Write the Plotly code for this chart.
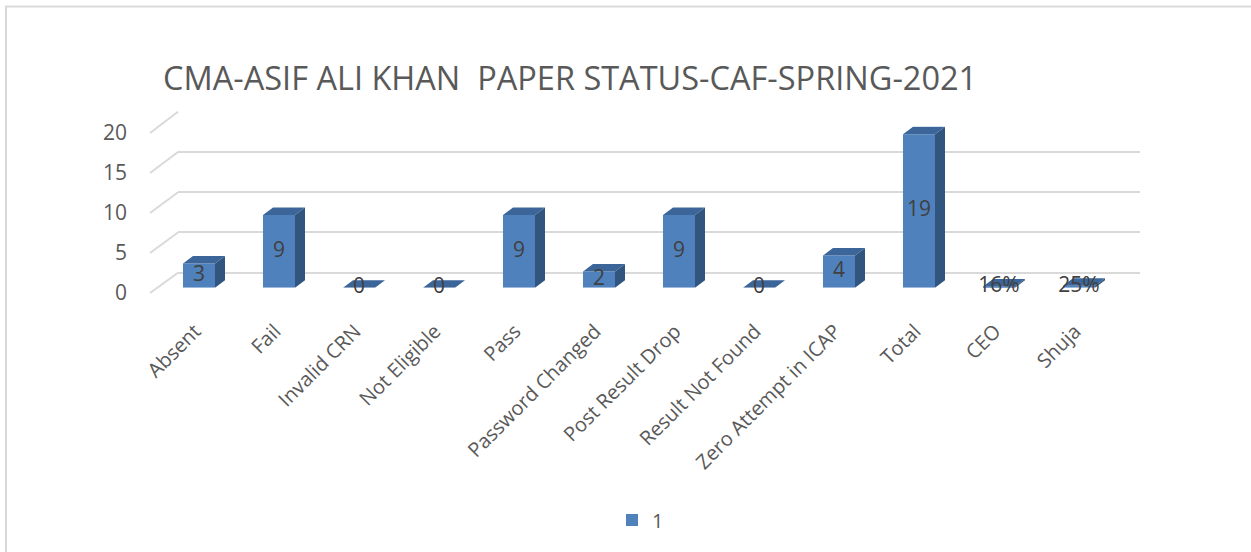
import plotly.graph_objects as go

# Paper status counts per category
categories = ["Absent", "Fail", "Invalid CRN", "Not Eligible", "Pass",
              "Password Changed", "Post Result Drop", "Result Not Found",
              "Zero Attempt in ICAP", "Total", "CEO", "Shuja"]
values = [3, 9, 0, 0, 9, 2, 9, 0, 4, 19, 0.16, 0.25]
label_kind = ["count"] * 10 + ["percent"] * 2
y_ticks = [0, 5, 10, 15, 20]
series_name = "1"
title_text = "CMA-ASIF ALI KHAN  PAPER STATUS-CAF-SPRING-2021"

W, H = 1251, 552
FONT = "Open Sans"
TXT = "#595959"
FRONT = "#4f81bd"
TOP = "#3c6699"
SIDE = "#32557f"
GRID = "#d9d9d9"


def fx(px):
    return px / W


def fy(py):
    return 1 - py / H


# pseudo-3D depth of each column, in axis units
DX = 10 / 80
DY = 0.93
HALF = 0.2

labels = [f"{v:.0%}" if k == "percent" else f"{v:g}" for v, k in zip(values, label_kind)]
xs = list(range(len(categories)))

# top and side faces as filled polygons
top_x, top_y, side_x, side_y = [], [], [], []
for i, v in zip(xs, values):
    top_x += [i - HALF, i + HALF, i + HALF + DX, i - HALF + DX, i - HALF, None]
    top_y += [v, v, v + DY, v + DY, v, None]
    side_x += [i + HALF, i + HALF + DX, i + HALF + DX, i + HALF, i + HALF, None]
    side_y += [0, DY, v + DY, v, 0, None]

fig = go.Figure()

# back wall gridlines (subplot xy, drawn first)
fig.add_trace(go.Scatter(x=[0], y=[0], mode="markers", marker=dict(opacity=0),
                         hoverinfo="skip", showlegend=False, xaxis="x", yaxis="y"))

# columns (subplot x2y2)
fig.add_trace(go.Bar(x=xs, y=values, width=2 * HALF, name=series_name,
                     marker=dict(color=FRONT, line=dict(width=0)),
                     xaxis="x2", yaxis="y2", showlegend=True))
fig.add_trace(go.Scatter(x=side_x, y=side_y, mode="lines", fill="toself",
                         fillcolor=SIDE, line=dict(width=0, color=SIDE),
                         hoverinfo="skip", showlegend=False, xaxis="x2", yaxis="y2"))
fig.add_trace(go.Scatter(x=top_x, y=top_y, mode="lines", fill="toself",
                         fillcolor=TOP, line=dict(width=0, color=TOP),
                         hoverinfo="skip", showlegend=False, xaxis="x2", yaxis="y2"))
fig.add_trace(go.Scatter(x=xs, y=[v / 2 for v in values], mode="text", text=labels,
                         textfont=dict(family=FONT, size=21, color="#404040"),
                         hoverinfo="skip", showlegend=False, xaxis="x2", yaxis="y2",
                         cliponaxis=False))

# value axis labels (subplot x3y3, front edge)
fig.add_trace(go.Scatter(x=[0], y=[0], mode="markers", marker=dict(opacity=0),
                         hoverinfo="skip", showlegend=False, xaxis="x3", yaxis="y3"))

# geometry in pixels
WALL_L, WALL_R = 178, 1140
WALL_0, WALL_20 = 272.7, 111.7
FRONT_L = 150
FRONT_0, FRONT_20 = 293, 133
BAR_0, BAR_20 = 287.7, 126.3
CAT_L, CAT_R = 159, 1119

ymax = y_ticks[-1]

# diagonal edges joining front value ticks to the back wall gridlines
shapes = []
for t in y_ticks:
    yf = FRONT_0 + (FRONT_20 - FRONT_0) * t / ymax
    yb = WALL_0 + (WALL_20 - WALL_0) * t / ymax
    shapes.append(dict(type="line", xref="paper", yref="paper",
                       x0=fx(FRONT_L), y0=fy(yf), x1=fx(WALL_L), y1=fy(yb),
                       line=dict(color=GRID, width=2), layer="below"))

# outer frame
shapes.append(dict(type="line", xref="paper", yref="paper", x0=fx(5), y0=fy(6.5),
                   x1=1, y1=fy(6.5), line=dict(color=GRID, width=2)))
shapes.append(dict(type="line", xref="paper", yref="paper", x0=fx(6), y0=fy(6),
                   x1=fx(6), y1=0, line=dict(color=GRID, width=2)))

hidden = dict(showgrid=False, zeroline=False, showticklabels=False, showline=False,
              ticks="", fixedrange=True, automargin=False)

fig.update_layout(
    width=W, height=H,
    margin=dict(l=0, r=0, t=0, b=0, pad=0, autoexpand=False),
    paper_bgcolor="white", plot_bgcolor="rgba(0,0,0,0)",
    font=dict(family=FONT, color=TXT),
    title=dict(text=title_text, x=fx(163), xanchor="left", xref="paper",
               y=fy(79), yanchor="middle", yref="paper", automargin=False,
               font=dict(family=FONT, size=32.5, color=TXT)),
    showlegend=True,
    legend=dict(orientation="h", x=fx(612), xanchor="left", y=fy(520), yanchor="middle",
                font=dict(family=FONT, size=20, color=TXT), bgcolor="rgba(0,0,0,0)"),
    xaxis=dict(domain=[fx(WALL_L), fx(WALL_R)], range=[0, 1], anchor="y", **hidden),
    yaxis=dict(domain=[fy(WALL_0), fy(WALL_20)], range=[0, ymax], anchor="x",
               tickvals=y_ticks, showgrid=True, gridcolor=GRID, gridwidth=2,
               zeroline=True, zerolinecolor=GRID, zerolinewidth=2,
               showticklabels=False, showline=False, ticks="", fixedrange=True,
               automargin=False),
    xaxis2=dict(domain=[fx(CAT_L), fx(CAT_R)], range=[-0.5, len(categories) - 0.5],
                anchor="y2", tickvals=[i - 0.05 for i in xs], ticktext=categories,
                tickangle=-45, tickfont=dict(family=FONT, size=20, color=TXT),
                showgrid=False, zeroline=False, showline=False, ticks="",
                ticklabelstandoff=27, fixedrange=True, automargin=False),
    yaxis2=dict(domain=[fy(BAR_0), fy(BAR_20)], range=[0, ymax], anchor="x2", **hidden),
    xaxis3=dict(domain=[fx(FRONT_L), fx(WALL_R)], range=[0, 1], anchor="y3", **hidden),
    yaxis3=dict(domain=[fy(FRONT_0), fy(FRONT_20)], range=[0, ymax], anchor="x3",
                tickvals=y_ticks, showticklabels=True,
                tickfont=dict(family=FONT, size=21, color=TXT),
                showgrid=False, zeroline=False, showline=False, ticks="",
                ticklabelstandoff=22, fixedrange=True, automargin=False),
    shapes=shapes,
    bargap=0.6,
)

fig.write_html("out.html")
